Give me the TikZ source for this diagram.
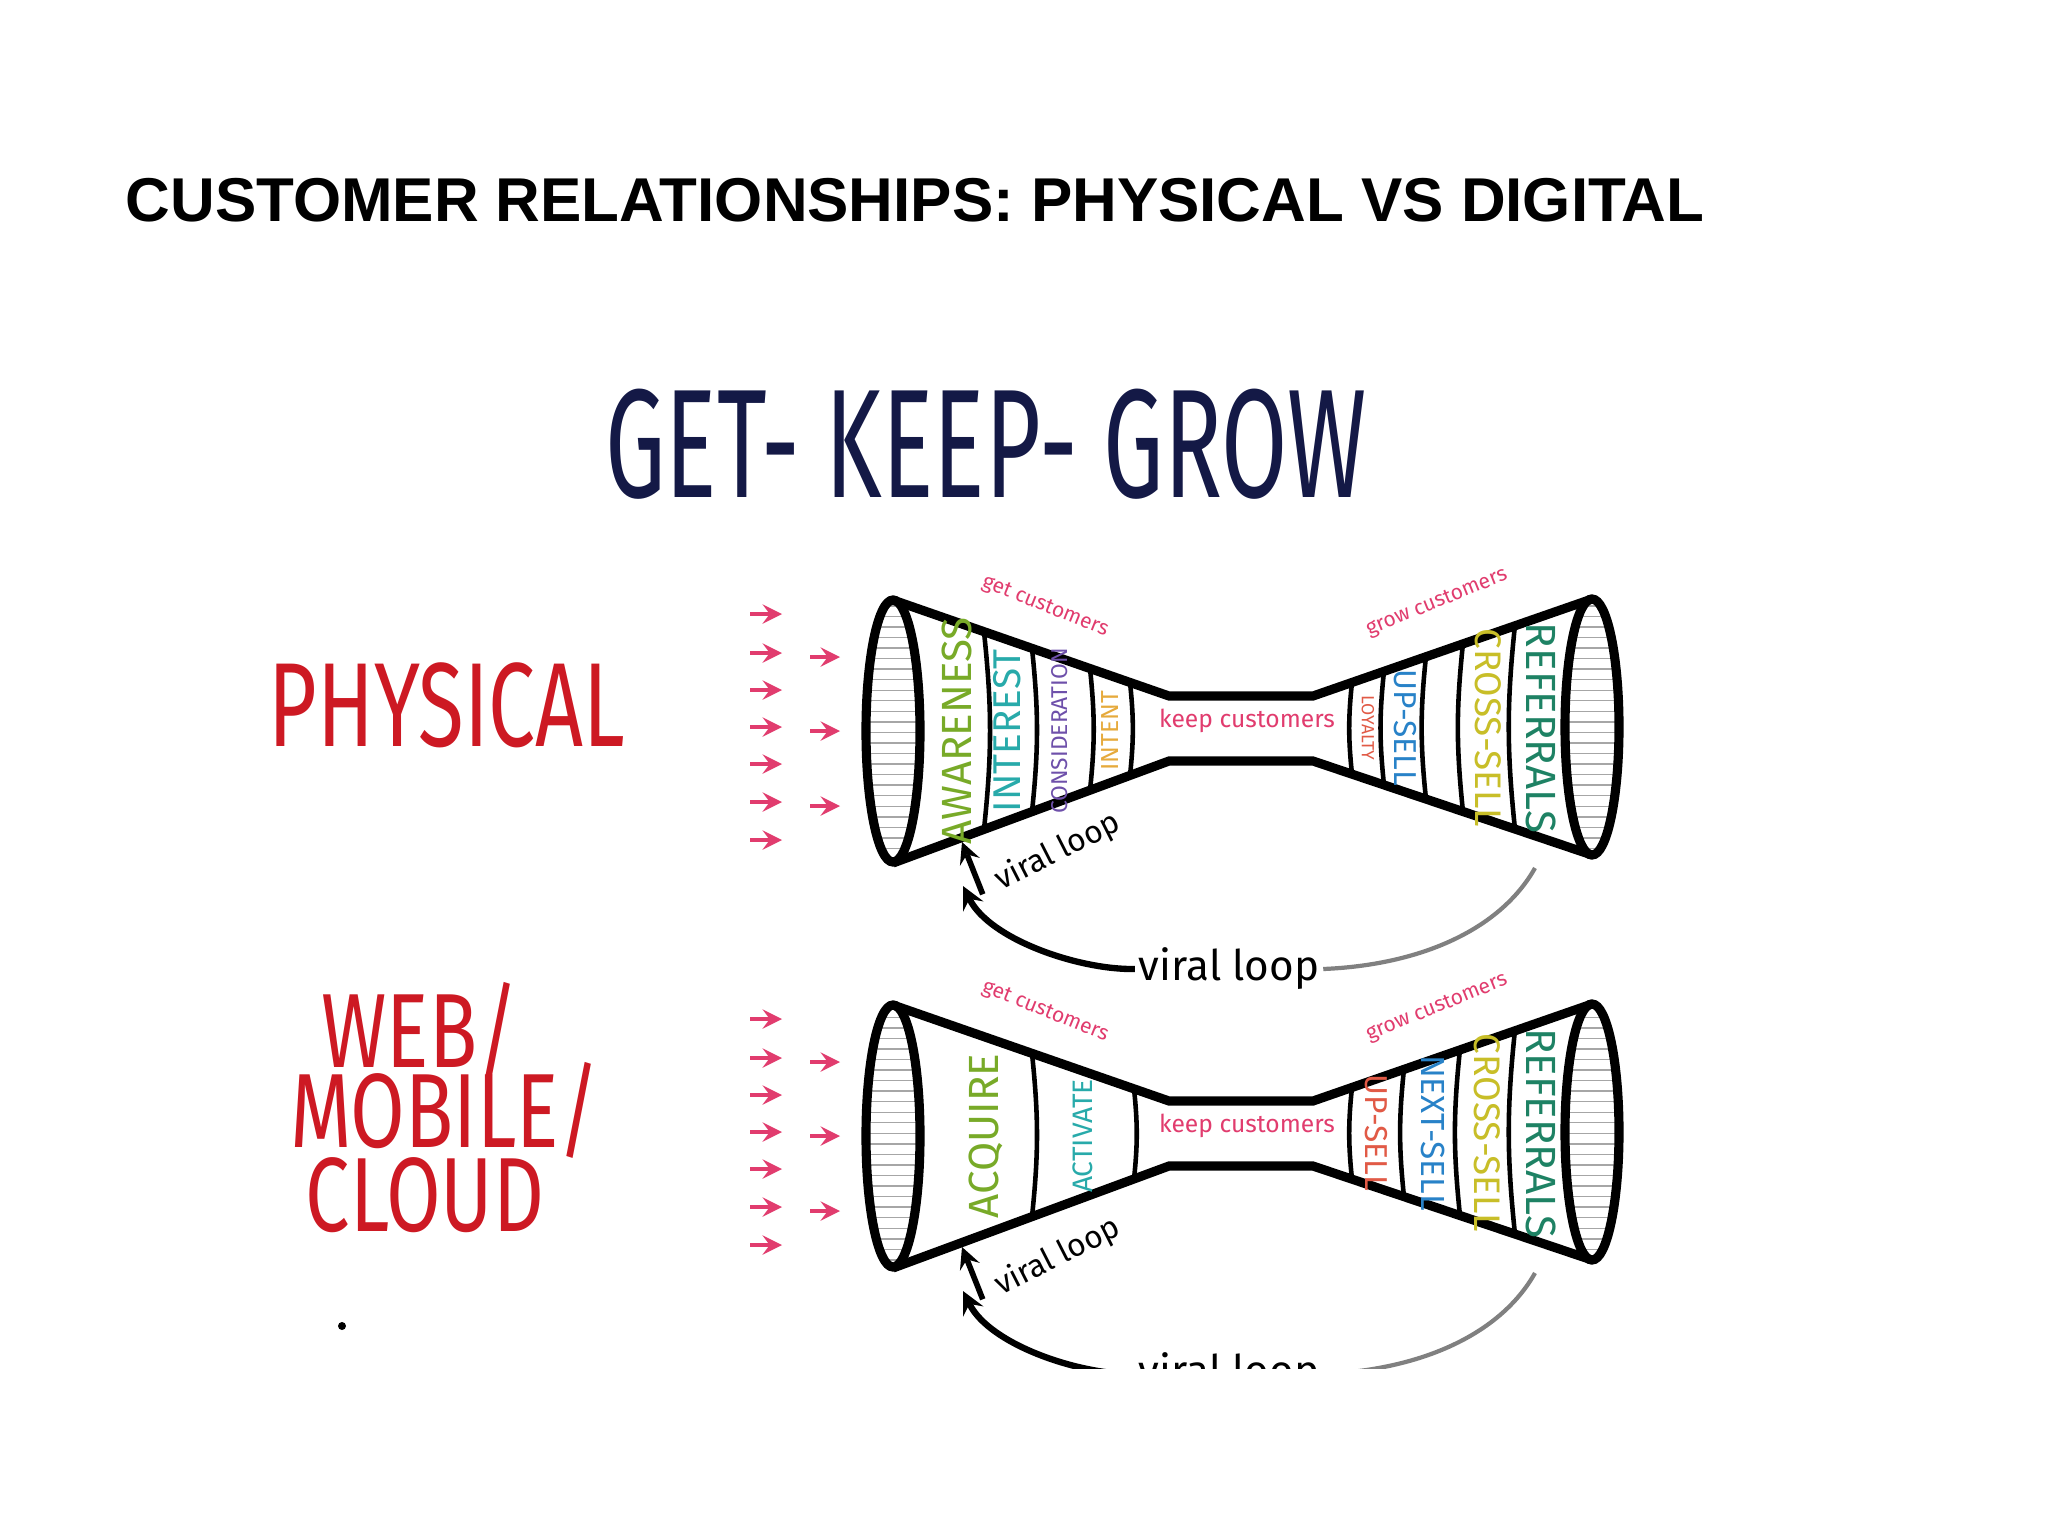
\documentclass[tikz,border=0pt]{standalone}
\usepackage{fontspec}
\setmainfont{Liberation Sans}
\newfontfamily\hand{Fira Sans}
\usetikzlibrary{patterns,calc}
\definecolor{hred}{RGB}{205,25,35}
\definecolor{navy}{RGB}{20,25,70}
\definecolor{pinkr}{RGB}{225,60,110}
\definecolor{cgreen}{RGB}{120,170,40}
\definecolor{cteal}{RGB}{40,170,170}
\definecolor{cpurp}{RGB}{110,80,170}
\definecolor{corange}{RGB}{230,170,60}
\definecolor{cred}{RGB}{225,90,70}
\definecolor{cblue}{RGB}{40,130,200}
\definecolor{cyell}{RGB}{200,190,40}
\definecolor{cdgreen}{RGB}{30,130,100}
\tikzset{
  edge/.style={line width=2.6pt,black},
  divl/.style={line width=1.3pt,black},
  band/.style={font=\hand\fontsize{12}{12}\selectfont},
  tiny/.style={font=\hand\fontsize{6}{6}\selectfont,text=pinkr},
  redarrow/.style={-stealth,line width=1.4pt,pinkr},
  loopl/.style={font=\hand\fontsize{9}{9}\selectfont},
  bigred/.style={text=hred,font=\hand\fontsize{30}{30}\selectfont,xscale=0.75},
}
\newcommand{\funnel}[1]{%
\begin{scope}[shift={(0,#1)}]
  \coordinate (lt) at (893,600); \coordinate (lb) at (893,863);
  \coordinate (nlt) at (1169,696); \coordinate (nlb) at (1169,761);
  \coordinate (nrt) at (1313,696); \coordinate (nrb) at (1313,761);
  \coordinate (rt) at (1592,599); \coordinate (rb) at (1592,855);
  \fill[pattern=horizontal lines, pattern color=gray!70] (893,731) ellipse [x radius=27, y radius=131];
  \fill[pattern=horizontal lines, pattern color=gray!70] (1592,727) ellipse [x radius=27, y radius=128];
  \draw[edge] (893,731) ellipse [x radius=27, y radius=131];
  \draw[edge] (1592,727) ellipse [x radius=27, y radius=128];
  \draw[edge] (lt) -- (nlt) -- (nrt) -- (rt);
  \draw[edge] (lb) -- (nlb) -- (nrb) -- (rb);
  \node[tiny,rotate=-22] (gc) at (1045,607) {get customers};
  \node[tiny,rotate=22] (gr) at (1437,603) {grow customers};
  \node[tiny,font=\hand\fontsize{7}{7}\selectfont] (kc) at (1247,721) {keep customers};
  \node[loopl,rotate=27] (vl) at (1058,852) {viral loop};
  \coordinate (va) at (962,842);
  \draw[-stealth,line width=1.6pt] ($(vl.west)+(-4,6)$) -- (va);
  \node[loopl,font=\hand\fontsize{12}{12}\selectfont,fill=white,inner sep=1pt] (bl) at (1229,969) {viral loop};
  \coordinate (bs) at (1535,868); \coordinate (be) at (963,886);
  \draw[line width=1.2pt,gray] (bs) .. controls (1500,930) and (1420,965) .. (bl.east);
  \draw[-stealth,line width=1.8pt] (bl.west) .. controls (1080,970) and (990,940) .. (be);
  \foreach \yy in {614,653,690,727,764,802,840} \draw[redarrow] (750,\yy) -- (782,\yy);
  \foreach \yy in {657,731,806} \draw[redarrow] (810,\yy) -- (840,\yy);
\end{scope}}
\newcommand{\ldiv}[2]{\draw[divl] (#1,{601+(#1-895)*0.3467+#2}) to[bend left=6] (#1,{862-(#1-895)*0.3686+#2});}
\newcommand{\rdiv}[2]{\draw[divl] (#1,{696-(#1-1313)*0.3525+#2}) to[bend right=6] (#1,{761+(#1-1313)*0.3381+#2});}
\begin{document}
\begin{tikzpicture}[x=0.01cm,y=-0.01cm]
\useasboundingbox (0,0) rectangle (2048,1536);
\fill[white] (0,0) rectangle (2048,1536);
\node[anchor=west,font=\bfseries\fontsize{17.6}{17.6}\selectfont,inner sep=0pt] (title) at (125,200) {CUSTOMER RELATIONSHIPS: PHYSICAL VS DIGITAL};
\node[text=navy,font=\hand\fontsize{44}{44}\selectfont,xscale=0.62] (gkg) at (986,444) {GET- KEEP- GROW};
\node[text=hred,font=\hand\fontsize{34}{34}\selectfont,xscale=0.7] (phys) at (447,705) {PHYSICAL};
\node[bigred] (web) at (420,1030) {WEB/};
\node[bigred] (mob) at (445,1110) {MOBILE/};
\node[bigred] (cloud) at (425,1195) {CLOUD};
\fill (342,1326) circle (4);
\begin{scope}
\clip (0,0) rectangle (2048,1368);
\funnel{0}
\funnel{405}
\end{scope}
% top funnel bands
\ldiv{984}{0}\ldiv{1032}{0}\ldiv{1090}{0}\ldiv{1130}{0}
\rdiv{1352}{0}\rdiv{1384}{0}\rdiv{1426}{0}\rdiv{1463}{0}\rdiv{1515}{0}
\node[band,text=cgreen,rotate=90] (aw) at (957,731) {AWARENESS};
\node[band,text=cteal,rotate=90,font=\hand\fontsize{11}{11}\selectfont] (in) at (1007,731) {INTEREST};
\node[band,text=cpurp,rotate=90,font=\hand\fontsize{6.5}{6.5}\selectfont] (co) at (1060,731) {CONSIDERATION};
\node[band,text=corange,rotate=90,font=\hand\fontsize{7}{7}\selectfont] (it) at (1110,731) {INTENT};
\node[band,text=cred,rotate=-90,font=\hand\fontsize{5}{5}\selectfont] (ly) at (1368,728) {LOYALTY};
\node[band,text=cblue,rotate=-90,font=\hand\fontsize{9}{9}\selectfont] (us) at (1405,728) {UP-SELL};
\node[band,text=cyell,rotate=-90,font=\hand\fontsize{10.5}{10.5}\selectfont] (cs) at (1488,728) {CROSS-SELL};
\node[band,text=cdgreen,rotate=-90] (rf) at (1541,728) {REFERRALS};
% bottom funnel bands
\ldiv{1032}{405}\ldiv{1134}{405}
\rdiv{1352}{405}\rdiv{1404}{405}\rdiv{1460}{405}\rdiv{1515}{405}
\node[band,text=cgreen,rotate=90] (aq) at (986,1136) {ACQUIRE};
\node[band,text=cteal,rotate=90,font=\hand\fontsize{8}{8}\selectfont] (ac) at (1083,1136) {ACTIVATE};
\node[band,text=cred,rotate=-90,font=\hand\fontsize{9}{9}\selectfont] (us2) at (1376,1133) {UP-SELL};
\node[band,text=cblue,rotate=-90,font=\hand\fontsize{9.5}{9.5}\selectfont] (ns) at (1433,1133) {NEXT-SELL};
\node[band,text=cyell,rotate=-90,font=\hand\fontsize{10.5}{10.5}\selectfont] (cs2) at (1487,1133) {CROSS-SELL};
\node[band,text=cdgreen,rotate=-90] (rf2) at (1541,1133) {REFERRALS};
\end{tikzpicture}
\end{document}
